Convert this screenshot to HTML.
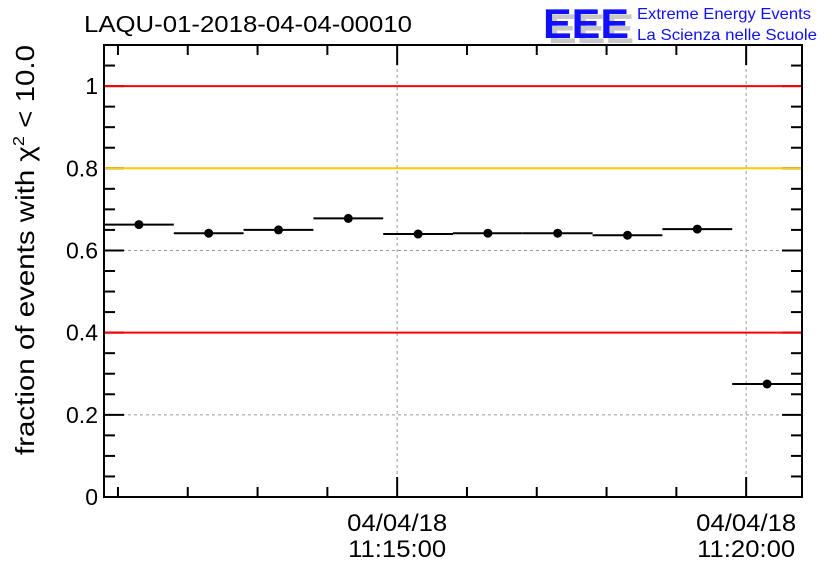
<!DOCTYPE html>
<html><head><meta charset="utf-8"><style>
body{margin:0;background:#fff;}
svg text{font-family:"Liberation Sans",sans-serif;}
</style></head><body>
<svg width="836" height="572" xmlns="http://www.w3.org/2000/svg">
<text x="84" y="32" font-size="23" textLength="328" lengthAdjust="spacingAndGlyphs">LAQU-01-2018-04-04-00010</text>
<g>
<text x="548" y="43" font-size="42" font-weight="bold" fill="#c8c8c8" textLength="86" lengthAdjust="spacingAndGlyphs">EEE</text>
<text x="543" y="38" font-size="42" font-weight="bold" fill="#1010ff" textLength="86" lengthAdjust="spacingAndGlyphs">EEE</text>
<text x="637" y="19" font-size="16" fill="#1010ff" textLength="174" lengthAdjust="spacingAndGlyphs">Extreme Energy Events</text>
<text x="637" y="40" font-size="16" fill="#1010ff" textLength="180" lengthAdjust="spacingAndGlyphs">La Scienza nelle Scuole</text>
</g>
<text transform="translate(34,250) rotate(-90)" text-anchor="middle" font-size="26" textLength="410" lengthAdjust="spacingAndGlyphs">fraction of events with χ<tspan dy="-10" font-size="16">2</tspan><tspan dy="10"> &lt; 10.0</tspan></text>
<g id="plot"></g>
</svg>
<script>
const binStarts = [-252,-192,-132,-72,-12,48,108,168,228,288]; // seconds rel. 11:15:00
const values = [0.663,0.642,0.650,0.678,0.640,0.642,0.642,0.637,0.652,0.275];
const errors = [0.006,0.006,0.006,0.006,0.006,0.006,0.006,0.006,0.006,0.006];
const yTicks = [0,0.2,0.4,0.6,0.8,1];
const yTickLabels = ["0","0.2","0.4","0.6","0.8","1"];
const xLabelTimes = [0,300];
const xLabelDates = ["04/04/18","04/04/18"];
const xLabelClock = ["11:15:00","11:20:00"];
const refLines = [1.0,0.8,0.4];
const refColors = ["#ff0000","#ffcc00","#ff0000"];
const L=104,R=802,T=45,B=497,X0=-252,X1=348,Y0=0,Y1=1.1;
const xs=t=>L+(t-X0)/(X1-X0)*(R-L);
const ys=v=>B-(v-Y0)/(Y1-Y0)*(B-T);
const NS="http://www.w3.org/2000/svg";
const g=document.getElementById('plot');
function mk(tag,attrs){const e=document.createElementNS(NS,tag);for(const k in attrs)e.setAttribute(k,attrs[k]);g.appendChild(e);return e;}
yTicks.slice(1).forEach(v=>{const e=mk('line',{x1:L,x2:R,y1:ys(v),y2:ys(v),stroke:'#999','stroke-dasharray':'3,3','stroke-width':1});

});
xLabelTimes.forEach(t=>{const e=mk('line',{x1:xs(t),x2:xs(t),y1:T,y2:B,stroke:'#999','stroke-dasharray':'3,3','stroke-width':1});

});
for(let v=0;v<=1.1001;v+=0.05){const maj=Math.abs(v*5-Math.round(v*5))<1e-6;const len=maj?20:11;
mk('line',{x1:L,x2:L+len,y1:ys(v),y2:ys(v),stroke:'#000','stroke-width':2});
mk('line',{x1:R-len,x2:R,y1:ys(v),y2:ys(v),stroke:'#000','stroke-width':2});}
refLines.forEach((v,i)=>{const e=mk('line',{x1:L,x2:R,y1:ys(v),y2:ys(v),stroke:refColors[i],'stroke-width':2});

});
yTicks.forEach((v,i)=>{const e=mk('text',{x:L-6,y:ys(v)+8,'text-anchor':'end','font-size':23});e.textContent=yTickLabels[i];

});
for(let t=-240;t<=X1;t+=60){const maj=(t%300===0);const len=maj?20:10;
mk('line',{x1:xs(t),x2:xs(t),y1:B,y2:B-len,stroke:'#000','stroke-width':2});
mk('line',{x1:xs(t),x2:xs(t),y1:T,y2:T+len,stroke:'#000','stroke-width':2});}
xLabelTimes.forEach((t,i)=>{let e=mk('text',{x:xs(t),y:531,'text-anchor':'middle','font-size':24,textLength:100,lengthAdjust:'spacingAndGlyphs'});e.textContent=xLabelDates[i];


e=mk('text',{x:xs(t),y:557,'text-anchor':'middle','font-size':24,textLength:98,lengthAdjust:'spacingAndGlyphs'});e.textContent=xLabelClock[i];

});
mk('rect',{x:L,y:T,width:R-L,height:B-T,fill:'none',stroke:'#000','stroke-width':2});
values.forEach((v,i)=>{const x0=xs(binStarts[i]),x1=xs(Math.min(binStarts[i]+60,X1)),cx=xs(binStarts[i]+30),y=ys(v);
let e=mk('line',{x1:x0,x2:x1,y1:y,y2:y,stroke:'#000','stroke-width':2});


e=mk('line',{x1:cx,x2:cx,y1:ys(v+errors[i]),y2:ys(v-errors[i]),stroke:'#000','stroke-width':2});


e=mk('circle',{cx:cx,cy:y,r:4.5,fill:'#000'});

});
</script>
</body></html>
